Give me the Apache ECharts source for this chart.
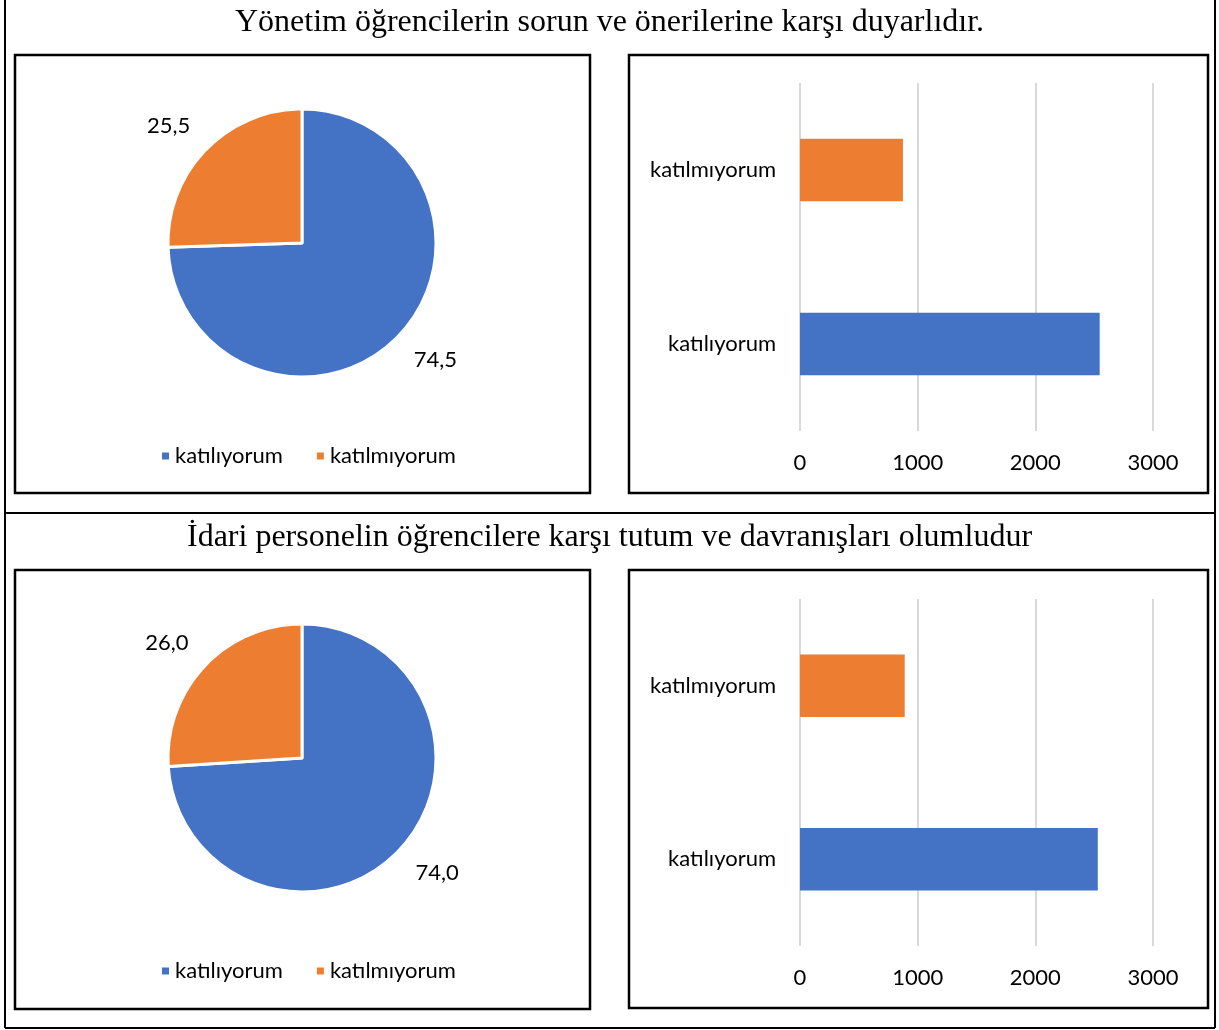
<!DOCTYPE html>
<html>
<head>
<meta charset="utf-8">
<script src="https://cdn.jsdelivr.net/npm/echarts@6/dist/echarts.min.js"></script>
<style>
  html, body { margin: 0; padding: 0; background: #fff; }
  #chart { width: 1219px; height: 1030px; }
</style>
</head>
<body>
<div id="chart"></div>
<script>
// data
const titles = [
  'Yönetim öğrencilerin sorun ve önerilerine karşı duyarlıdır.',
  'İdari personelin öğrencilere karşı tutum ve davranışları olumludur'
]
const categories = ['katılıyorum', 'katılmıyorum']
const piePercent1 = [74.5, 25.5]
const piePercent2 = [74.0, 26.0]
const barCounts1 = [2547, 875]
const barCounts2 = [2531, 890]
const xTicks = [0, 1000, 2000, 3000]

const colors = ['#4472C4', '#ED7D31']
const labelFont = 'Lato, "Open Sans", sans-serif'
const serifFont = '"Liberation Serif", "DejaVu Serif", serif'
const fs = 22

const fmt = v => v.toFixed(1).replace('.', ',')

const pieSeries = (values, cy) => ({
  type: 'pie',
  center: [302, cy],
  radius: 134,
  startAngle: 90,
  clockwise: true,
  silent: true,
  itemStyle: { borderColor: '#fff', borderWidth: 3 },
  label: {
    show: true,
    position: 'outside',
    formatter: p => fmt(p.value),
    fontFamily: labelFont,
    fontSize: fs,
    color: '#000'
  },
  labelLine: { show: false, length: 34, length2: -14 },
  data: categories.map((c, i) => ({
    name: c,
    value: values[i],
    itemStyle: { color: colors[i] }
  }))
})

const barSeries = (values, idx) => ({
  type: 'bar',
  xAxisIndex: idx,
  yAxisIndex: idx,
  barWidth: '36%',
  silent: true,
  data: values.map((v, i) => ({ value: v, itemStyle: { color: colors[i] } }))
})

const xAxisDef = idx => ({
  type: 'value',
  gridIndex: idx,
  min: 0,
  max: xTicks[xTicks.length - 1],
  interval: 1000,
  axisLine: { show: false },
  axisTick: { show: false },
  splitLine: { lineStyle: { color: '#d9d9d9', width: 2 } },
  axisLabel: { fontFamily: labelFont, fontSize: fs, color: '#000', margin: 21, formatter: v => String(v) }
})

const yAxisDef = idx => ({
  type: 'category',
  gridIndex: idx,
  data: categories,
  axisLine: { show: false },
  axisTick: { show: false },
  axisLabel: { fontFamily: labelFont, fontSize: fs, color: '#000', margin: 24 }
})

const legendDef = top => ({
  data: categories,
  left: 155,
  top: top,
  icon: 'rect',
  itemWidth: 9,
  itemHeight: 9,
  itemGap: 32,
  textStyle: { fontFamily: labelFont, fontSize: fs, color: '#000' }
})

const box = (x, y, w, h) => ({
  type: 'rect',
  shape: { x: x, y: y, width: w, height: h },
  style: { fill: 'none', stroke: '#000', lineWidth: 2.5 },
  silent: true
})

const chart = echarts.init(document.getElementById('chart'), null, { renderer: 'canvas' })

chart.setOption({
  backgroundColor: '#fff',
  animation: false,
  title: [
    { text: titles[0], left: 'center', top: 2, textStyle: { fontFamily: serifFont, fontSize: 32, fontWeight: 'normal', color: '#000' } },
    { text: titles[1], left: 'center', top: 517, textStyle: { fontFamily: serifFont, fontSize: 32, fontWeight: 'normal', color: '#000' } }
  ],
  legend: [legendDef(440), legendDef(955)],
  grid: [
    { left: 800, right: 66, top: 83, height: 348 },
    { left: 800, right: 66, top: 599, height: 347 }
  ],
  xAxis: [xAxisDef(0), xAxisDef(1)],
  yAxis: [yAxisDef(0), yAxisDef(1)],
  series: [
    pieSeries(piePercent1, 243),
    pieSeries(piePercent2, 758),
    barSeries(barCounts1, 0),
    barSeries(barCounts2, 1)
  ],
  graphic: [
    // outer frame and row divider
    { type: 'line', shape: { x1: 5, y1: 0, x2: 5, y2: 1028 }, style: { stroke: '#000', lineWidth: 2 }, silent: true },
    { type: 'line', shape: { x1: 1215, y1: 0, x2: 1215, y2: 1028 }, style: { stroke: '#000', lineWidth: 2 }, silent: true },
    { type: 'line', shape: { x1: 5, y1: 1028, x2: 1215, y2: 1028 }, style: { stroke: '#000', lineWidth: 2 }, silent: true },
    { type: 'line', shape: { x1: 5, y1: 513, x2: 1215, y2: 513 }, style: { stroke: '#000', lineWidth: 2 }, silent: true },
    // panel borders
    box(15, 55, 575, 438),
    box(629, 55, 579, 438),
    box(15, 570, 575, 439),
    box(629, 570, 579, 438)
  ]
})
</script>
</body>
</html>
